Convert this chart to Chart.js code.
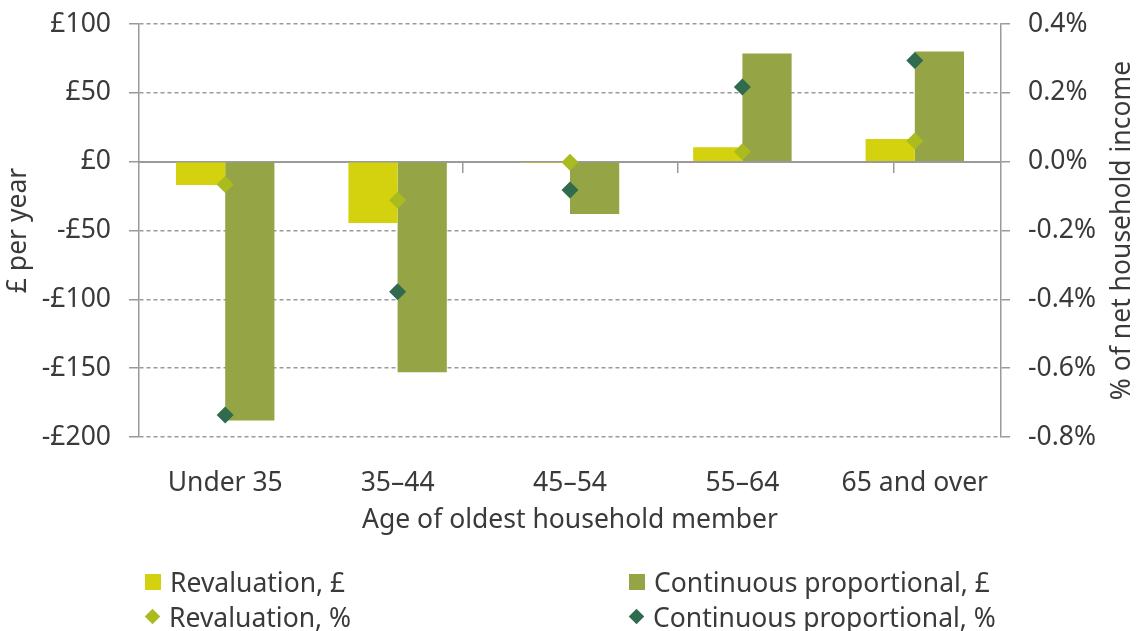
<!DOCTYPE html>
<html>
<head>
<meta charset="utf-8">
<script src="https://cdn.jsdelivr.net/npm/chart.js@4/dist/chart.umd.min.js"></script>
<style>
  html, body { margin: 0; padding: 0; background: #fff; }
  #wrap { position: relative; width: 1141px; height: 631px; }
  #legend {
    position: absolute; left: 145px; top: 565px;
    display: grid; grid-template-columns: 484px 480px; row-gap: 2px;
    font-family: "Noto Sans", sans-serif; font-size: 26.5px; color: #3a3a3a;
  }
  .item { display: flex; align-items: center; height: 33px; white-space: nowrap; }
  .sq { width: 16px; height: 16px; margin-right: 9px; }
  .dm { width: 11px; height: 11px; margin: 0 11px 0 2px; transform: rotate(45deg); }
</style>
</head>
<body>
<div id="wrap">
  <canvas id="chart" width="1141" height="631"></canvas>
  <div id="legend"></div>
</div>
<script>
// Age groups and values
const categories = ['Under 35', '35–44', '45–54', '55–64', '65 and over'];
const revaluationGBP = [-17, -44.5, -1, 10.5, 16.5];
const continuousGBP = [-188, -153, -38, 78.5, 80];
const revaluationPct = [-0.066, -0.112, -0.002, 0.029, 0.06];
const continuousPct = [-0.736, -0.378, -0.082, 0.217, 0.294];

const leftTicks = [-200, -150, -100, -50, 0, 50, 100];
const rightTicks = [-0.8, -0.6, -0.4, -0.2, 0, 0.2, 0.4];

const textColor = '#3a3a3a';
const axisGrey = '#9a9a9a';
const font = { family: 'Noto Sans', size: 26.5 };

// Right title reads bottom-to-top, Chart.js would rotate it the other way
const rightTitle = {
    id: 'rightTitle',
    afterDraw(chart) {
        const ctx = chart.ctx;
        const area = chart.chartArea;
        ctx.save();
        ctx.translate(1122, (area.top + area.bottom) / 2);
        ctx.rotate(-Math.PI / 2);
        ctx.font = '26.5px "Noto Sans"';
        ctx.fillStyle = textColor;
        ctx.textAlign = 'center';
        ctx.textBaseline = 'middle';
        ctx.fillText('% of net household income', 0, 0);
        ctx.restore();
    }
};

// fixed axis widths; drop the tick padding that would push the plot down
function fixVertical(width) {
    return s => {
        s.width = width;
        s.paddingTop = 0;
        s.paddingBottom = 0;
    };
}

const ctx = document.getElementById('chart').getContext('2d');
const chart = new Chart(ctx, {
    data: {
        labels: categories,
        datasets: [
            {
                type: 'line', label: 'Revaluation, %', data: revaluationPct,
                yAxisID: 'y1', showLine: false, order: 1,
                pointStyle: 'rectRot', pointRadius: 8.5, pointBorderWidth: 0,
                pointBackgroundColor: '#aabb1f', borderColor: '#aabb1f'
            },
            {
                type: 'line', label: 'Continuous proportional, %', data: continuousPct,
                yAxisID: 'y1', showLine: false, order: 1,
                pointStyle: 'rectRot', pointRadius: 8.5, pointBorderWidth: 0,
                pointBackgroundColor: '#306a4f', borderColor: '#306a4f'
            },
            {
                type: 'bar', label: 'Revaluation, £', data: revaluationGBP,
                yAxisID: 'y', order: 2, backgroundColor: '#d4d10f',
                categoryPercentage: 0.571, barPercentage: 1
            },
            {
                type: 'bar', label: 'Continuous proportional, £', data: continuousGBP,
                yAxisID: 'y', order: 2, backgroundColor: '#95a545',
                categoryPercentage: 0.571, barPercentage: 1
            }
        ]
    },
    options: {
        responsive: false,
        animation: false,
        layout: { padding: { top: 24, left: 0, right: 0, bottom: 0 } },
        plugins: { legend: { display: false }, tooltip: { enabled: false } },
        scales: {
            x: {
                type: 'category',
                position: 'bottom',
                grid: { display: false },
                border: { display: false },
                ticks: { color: textColor, font: font, padding: 23, maxRotation: 0 },
                title: {
                    display: true, text: 'Age of oldest household member',
                    color: textColor, font: font, padding: { bottom: 95 }
                },
                afterFit: s => { s.height = 194; }
            },
            xZero: {
                type: 'category',
                labels: categories,
                position: { y: 0 },
                grid: { offset: true, drawOnChartArea: false, tickLength: 10, color: axisGrey, lineWidth: 1.5 },
                border: { color: axisGrey, width: 2 },
                ticks: { display: false }
            },
            y: {
                position: 'left',
                min: -200, max: 100,
                afterBuildTicks: s => { s.ticks = leftTicks.map(v => ({ value: v })); },
                grid: { color: '#9a9a9a', lineWidth: 1.5, tickLength: 10, tickColor: axisGrey, tickWidth: 1.5 },
                border: { color: axisGrey, width: 1.5, dash: [4, 3] },
                ticks: {
                    color: textColor, font: font, padding: 18,
                    callback: v => (v < 0 ? '-£' : '£') + Math.abs(v)
                },
                title: { display: true, text: '£ per year', color: textColor, font: font, padding: { top: 3 } },
                afterFit: fixVertical(139)
            },
            y1: {
                position: 'right',
                min: -0.8, max: 0.4,
                afterBuildTicks: s => { s.ticks = rightTicks.map(v => ({ value: v })); },
                grid: { drawOnChartArea: false, tickLength: 9, color: axisGrey, lineWidth: 1.5 },
                border: { color: axisGrey, width: 1.5 },
                ticks: {
                    color: textColor, font: font, padding: 18,
                    callback: v => v.toFixed(1) + '%'
                },
                afterFit: fixVertical(140)
            }
        }
    },
    plugins: [rightTitle]
});

// HTML legend built from the datasets, in two columns like the original
const legendOrder = [2, 3, 0, 1];
const legend = document.getElementById('legend');
legendOrder.forEach(i => {
    const ds = chart.data.datasets[i];
    const item = document.createElement('div');
    item.className = 'item';
    const mark = document.createElement('span');
    mark.className = ds.type === 'bar' ? 'sq' : 'dm';
    mark.style.background = ds.type === 'bar' ? ds.backgroundColor : ds.pointBackgroundColor;
    item.appendChild(mark);
    item.appendChild(document.createTextNode(ds.label));
    legend.appendChild(item);
});
</script>
</body>
</html>
